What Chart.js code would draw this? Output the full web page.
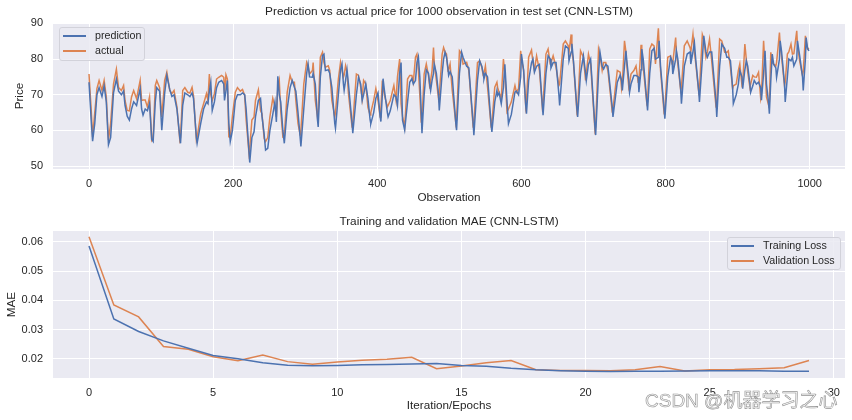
<!DOCTYPE html>
<html><head><meta charset="utf-8">
<script src="https://cdn.jsdelivr.net/npm/chart.js@4.4.1/dist/chart.umd.min.js"></script>
<style>
html,body{margin:0;padding:0;background:#fff;}
#wrap{position:relative;width:852px;height:420px;overflow:hidden;font-family:"Liberation Sans",Arial,sans-serif;color:#262626;}
canvas{position:absolute;left:0;}
.ttl{position:absolute;text-align:center;font-size:11.8px;line-height:14px;white-space:nowrap;color:#262626;}
.legend{position:absolute;background:rgba(234,234,242,0.85);border:1px solid #d2d2da;border-radius:3px;box-sizing:border-box;}
.legend .lab{position:absolute;font-size:10.7px;line-height:13px;white-space:pre;color:#262626;}
.legend .sw{position:absolute;height:2px;}
.wm{position:absolute;left:645px;top:390px;font-size:19px;line-height:21px;white-space:nowrap;color:#f6f6f6;-webkit-text-stroke:0.6px #949494;font-family:"Liberation Sans","Noto Sans CJK SC",sans-serif;}
</style></head>
<body>
<div id="wrap">
  <canvas id="c1" width="852" height="210" style="top:0"></canvas>
  <canvas id="c2" width="852" height="210" style="top:210px"></canvas>
  <div class="wm">CSDN @机器学习之心</div>
</div>
<script>
// ---------- Top chart data ----------
const topTitle = 'Prediction vs actual price for 1000 observation in test set (CNN-LSTM)';
const obs = [
  0,3,5,8,11,14,18,21,24,27,
  30,34,38,41,45,48,50,53,56,59,
  62,66,71,73,75,78,81,84,87,89,
  92,94,98,101,105,108,112,115,118,122,
  126,127,130,133,137,140,143,145,149,150,
  155,159,163,165,167,169,171,174,177,180,
  184,187,188,190,192,194,196,199,203,206,
  210,213,216,218,222,223,226,229,231,235,
  238,240,243,245,248,251,255,258,260,262,
  264,266,269,271,275,279,282,285,287,290,
  293,294,298,302,304,306,310,311,314,317,
  318,321,324,326,328,332,334,337,341,342,
  346,349,351,353,354,356,358,360,365,366,
  371,374,377,379,381,384,387,390,391,395,
  398,401,404,405,407,408,410,414,415,418,
  423,426,428,431,433,435,438,442,445,448,
  450,453,455,457,459,461,462,465,468,471,
  473,474,476,478,479,482,485,486,490,492,
  494,496,498,499,501,504,509,510,514,517,
  519,524,527,533,534,539,542,545,547,548,
  550,553,558,559,563,566,567,569,572,575,
  577,580,582,586,591,593,596,599,600,603,
  606,607,610,614,616,618,621,625,629,630,
  634,637,640,641,644,648,652,653,658,661,
  665,666,669,670,672,677,678,682,686,689,
  690,693,696,702,703,707,709,712,714,717,
  720,726,727,733,737,739,740,743,745,746,
  749,750,752,756,759,762,763,766,767,769,
  774,775,778,781,784,786,790,791,793,798,
  799,803,807,809,810,814,815,817,821,822,
  826,830,834,835,838,840,842,846,847,851,
  853,856,858,861,864,870,871,875,878,882,
  885,887,890,893,894,898,901,903,906,907,
  910,912,914,917,918,921,923,926,929,932,
  933,936,938,940,943,944,946,948,950,953,
  954,958,959,961,965,966,969,971,974,976,
  978,982,983,986,990,991,994,995,997,999
];
const actual = [
  75.8,66,58.2,65,71.7,74,71.2,74,69.4,57.3,
  62,73,77.2,72,71.2,72.6,68.4,65.6,65.5,69.4,
  71.2,68.9,74,68.4,68.5,68.5,66.6,69.4,57.3,58,
  72.6,74,72,63.8,74,76.3,71.2,70.3,71.2,66.6,
  57.3,58,71.2,72,70.7,70.5,72.1,69.8,57.3,58,
  64.7,67.5,70.3,68.4,75.8,70,68.4,70.3,74.4,74.9,
  75.4,74.9,70.3,75.6,74.4,58.2,58,64,70.7,72,
  71,71.5,69.8,63,53.6,55,62.9,63.8,68.4,71.4,
  65.6,64.7,57.8,56.9,58,63.8,69,66.6,63.8,72,
  74,65.6,58.2,58.5,70.7,75.4,73.5,73.5,68.4,62,
  58.7,60,73,79.1,78,75.8,76.8,79,68.4,63.8,
  65,80.5,81.9,79,77.7,78.1,76.8,68.4,63.8,65,
  74.4,79.1,77,74.9,75.5,78.1,76.3,70.3,61,62,
  75.8,75.4,72.1,68.9,74,73,66.5,64.3,65,68.4,
  71.7,68.4,63.8,66,74,72,69.8,66.6,67,68.4,
  72.6,68.4,75,80,67.5,64,61,74.4,75.4,75.4,
  73.5,80.5,81.4,77,70,62.4,63,75.8,78.6,75.4,
  71.7,74,76.8,83.2,79,74,68.9,70,81.4,83.2,
  82,81.4,76.8,77,78.6,71.2,61.9,63,82.3,81.4,
  78.6,79.1,76.8,61,62,79,79.5,77.7,75.4,76,
  78.1,72.1,61,62,72.1,73.5,72,70.7,68.9,80,
  76,65.2,66,68,72.6,70.7,71.7,82.3,80,76.8,
  66.6,68,80.5,82.5,79,76.8,80.9,76.8,66.6,67.5,
  81.4,82.8,78.6,79,80.9,77.7,72.6,73,84.2,85.1,
  83.7,82,86.9,82,79.5,65.2,66,82.3,80.5,74,
  76,81.4,78.6,60.1,61,82.8,81,76.8,79,79,
  76.8,65.2,66,76.8,76.3,71.7,73,85.1,82,78.6,
  72.1,73,75.8,76.8,78.1,73.5,74,84,81,77.7,
  67.5,68,82.8,84.2,83.7,78.6,88.6,84,76.8,64.7,
  65.5,80.5,80.9,78.6,79,86,82,78.6,71.2,72,
  83.7,85.1,83.2,82,86.9,82,78.6,70.7,71.5,86.9,
  85.6,80.5,82,85.6,79.5,66.6,67.5,85.6,85.1,81.9,
  81.9,82.3,77.7,71.7,72.5,73,76.8,78.6,72.6,73,
  84.2,80,76.3,72.1,73,75.4,75,74.9,76.3,68.9,
  70,85.1,78,69.4,67,68,81.9,79,78.6,78.1,
  79,87.4,84,80.5,72.6,73.5,81.4,82,84.2,81.4,
  81.5,87.9,84,79.5,75.4,76.5,86.5,85,82.8,83.1
];
const prediction = [
  73.5,63,57,62,70,72,69.5,72.5,68,56,
  58,70.5,74.4,71,70,71,67,64,62.9,66,
  68,67,71.7,66,64.3,66,65.5,67.5,57.5,56.9,
  68,72,71,60.1,70.5,75.4,71.5,69.5,70,66,
  58,56.4,67,70.5,70,69.5,70.5,69,58,56.4,
  62,66,68,67.5,71,73.5,65.6,68,72,73.5,
  74,73,68.4,71,74,62,56.9,60,68.4,70,
  70,70.5,70,66,54,51,58,59.6,63.8,68.4,
  69,64,59,54.5,55,60,64.5,68,62.4,75.2,
  70,68,60,56.4,66,72,74,72.1,71,65,
  58,55.5,66,76,78.6,75,74.9,76,73,63,
  61,75,81,81.4,76.8,77,76,72,62,60.6,
  70,77,78.6,73,71.2,74,77,73,62,59.2,
  70,74.9,73,68.4,70,73,69,63,61.9,65,
  69,70.5,63.8,62.5,70,74.5,71,65,63.8,65.5,
  70,69.4,67,76,79,62.9,60.1,68,73.5,74.5,
  73,74,79,80.6,75,65,59.2,70,77,76,
  72.5,71.2,74,76,78.6,76,70,65.6,76,80,
  81.9,80.5,77.5,75.4,76.5,75,62,60.1,76,81.9,
  80.5,78,77.5,62,58.7,74,79.5,78,76,74.4,
  76,75,61.5,59.6,68,71.2,69.8,70.5,67.5,72,
  78.5,68,61.9,64.5,70.7,71,70,75,81.4,77,
  67,64.7,74,79,80,76.3,78,78.5,67,64.3,
  76,80.9,80,77.5,79,79,70,67,80,83.7,
  83,79.5,82,84.3,80,66,63.8,76,80.9,76,
  74,78.5,80,61,58.7,76,81.9,78,77.2,78.5,
  78,66.5,63.8,73.5,75.5,74,71.2,78,82.3,80,
  74,70.7,73,75.4,75.4,75,70.7,77,82.8,80,
  68,65.6,76,82.3,83,80,80.5,85.1,78,66,
  63.3,75,80.5,79.5,75.8,80,82.3,80,71.5,67.5,
  78,81.4,82,78.6,82,84.6,79.5,71,68,80,
  86.5,82,80.5,82,82,68,63.8,78,84.2,83,
  80.5,80.5,79.5,72,67.5,70,73,76.8,75,71.7,
  77,79.5,78,73,70.7,72.5,74,73,73.5,72,
  68.5,76,82.3,73,67.5,64.7,74,81.4,78.5,77.5,
  74.9,80,85.1,82,73,68,75,80,79.5,80.5,
  78.1,80,85.1,81,75,71.2,80,86,83,82.3
];
const topXTicks = [0,200,400,600,800,1000];
const topYTicks = [50,60,70,80,90];

// ---------- Bottom chart data ----------
const bottomTitle = 'Training and validation MAE (CNN-LSTM)';
const epochs = [0,1,2,3,4,5,6,7,8,9,10,11,12,13,14,15,16,17,18,19,20,21,22,23,24,25,26,27,28,29];
const trainingLoss = [0.0586,0.0336,0.0293,0.0261,0.0236,0.0211,0.0200,0.0186,0.0178,0.0176,
                      0.0177,0.0179,0.0180,0.0182,0.0184,0.0177,0.0174,0.0167,0.0162,0.0159,
                      0.0157,0.0156,0.0157,0.0157,0.0158,0.0159,0.0159,0.0159,0.0157,0.0157];
const validationLoss = [0.0617,0.0384,0.0343,0.0242,0.0232,0.0207,0.0193,0.0213,0.0190,0.0181,
                        0.0189,0.0195,0.0198,0.0205,0.0166,0.0175,0.0186,0.0194,0.0162,0.0160,
                        0.0160,0.0159,0.0162,0.0173,0.0158,0.0162,0.0163,0.0166,0.0169,0.0194];
const botXTicks = [0,5,10,15,20,25,30];
const botYTicks = [0.02,0.03,0.04,0.05,0.06];

// ---------- Rendering ----------
const FONT = '"Liberation Sans", Arial, sans-serif';
const TEXT = '#262626';
const BLUE = '#4C72B0';
const ORANGE = '#DD8452';

const bgPlugin = {
  id: 'bg',
  beforeDraw(c) {
    const {ctx, chartArea: a} = c;
    ctx.save();
    ctx.fillStyle = '#EAEAF2';
    ctx.fillRect(a.left, a.top, a.right - a.left, a.bottom - a.top);
    ctx.restore();
  }
};

function makeChart(el, s) {
  return new Chart(el, {
    type: 'line',
    data: {
      datasets: s.series.map(d => ({
        label: d.label,
        data: s.xs.map((x, i) => ({x: x, y: d.values[i]})),
        borderColor: d.color, backgroundColor: d.color,
        borderWidth: 1.5, pointRadius: 0, tension: 0, fill: false
      }))
    },
    options: {
      responsive: false, animation: false, devicePixelRatio: 1,
      layout: {padding: {left: 0, right: 7, top: s.padTop, bottom: 0}},
      plugins: {legend: {display: false}, tooltip: {enabled: false}, title: {display: false}},
      scales: {
        x: {
          type: 'linear', min: s.xmin, max: s.xmax,
          afterFit: sc => { sc.height = s.xh; },
          afterBuildTicks: sc => { sc.ticks = s.xticks.map(v => ({value: v})); },
          grid: {color: '#ffffff', lineWidth: 1, drawTicks: false},
          border: {display: false},
          ticks: {color: TEXT, font: {family: FONT, size: 11}, padding: s.xpad, maxRotation: 0, autoSkip: false,
                  callback: v => String(v)},
          title: {display: true, text: s.xlabel, color: TEXT, font: {family: FONT, size: 11.7},
                  padding: {top: 0, bottom: s.xtpad}}
        },
        y: {
          type: 'linear', min: s.ymin, max: s.ymax,
          afterFit: sc => { sc.width = 53; },
          afterBuildTicks: sc => { sc.ticks = s.yticks.map(v => ({value: v})); },
          grid: {color: '#ffffff', lineWidth: 1, drawTicks: false},
          border: {display: false},
          ticks: {color: TEXT, font: {family: FONT, size: 11}, padding: 10, autoSkip: false,
                  callback: s.yfmt},
          title: {display: true, text: s.ylabel, color: TEXT, font: {family: FONT, size: 11.7},
                  padding: {top: s.ytpad, bottom: 0}}
        }
      }
    },
    plugins: [bgPlugin]
  });
}

function addTitle(chart, text, offsetTop) {
  const a = chart.chartArea;
  const d = document.createElement('div');
  d.className = 'ttl';
  d.textContent = text;
  d.style.left = a.left + 'px';
  d.style.width = (a.right - a.left) + 'px';
  d.style.top = (offsetTop + 4) + 'px';
  document.getElementById('wrap').appendChild(d);
}

function addLegend(chart, box) {
  const L = document.createElement('div');
  L.className = 'legend';
  L.style.left = box.left + 'px'; L.style.top = box.top + 'px';
  L.style.width = box.w + 'px'; L.style.height = box.h + 'px';
  chart.data.datasets.forEach((ds, i) => {
    const y = box.firstY + i * box.step;
    const sw = document.createElement('div');
    sw.className = 'sw';
    sw.style.left = '3px'; sw.style.width = '23px';
    sw.style.top = (y - 1) + 'px';
    sw.style.background = ds.borderColor;
    L.appendChild(sw);
    const lb = document.createElement('div');
    lb.className = 'lab';
    lb.style.left = box.textX + 'px';
    lb.style.top = (y - 7) + 'px';
    lb.textContent = ds.label;
    L.appendChild(lb);
  });
  document.getElementById('wrap').appendChild(L);
}

const chartTop = makeChart(document.getElementById('c1'), {
  xs: obs,
  series: [
    {label: 'prediction', values: prediction, color: BLUE},
    {label: 'actual', values: actual, color: ORANGE}
  ],
  padTop: 23, xh: 41, xmin: -49.95, xmax: 1048.95, ymin: 49.2, ymax: 90.1,
  xticks: topXTicks, yticks: topYTicks, xpad: 8, xtpad: 5, ytpad: 13,
  xlabel: 'Observation', ylabel: 'Price', yfmt: v => String(v)
});
addTitle(chartTop, topTitle, 0);
addLegend(chartTop, {left: 59, top: 27, w: 86, h: 34, firstY: 8, step: 15.3, textX: 35});

const chartBot = makeChart(document.getElementById('c2'), {
  xs: epochs,
  series: [
    {label: 'Training Loss', values: trainingLoss, color: BLUE},
    {label: 'Validation Loss', values: validationLoss, color: ORANGE}
  ],
  padTop: 21, xh: 42, xmin: -1.45, xmax: 30.45, ymin: 0.0134, ymax: 0.0637,
  xticks: botXTicks, yticks: botYTicks, xpad: 8.5, xtpad: 7.3, ytpad: 4.7,
  xlabel: 'Iteration/Epochs', ylabel: 'MAE', yfmt: v => v.toFixed(2)
});
addTitle(chartBot, bottomTitle, 210);
addLegend(chartBot, {left: 727, top: 237, w: 114, h: 33, firstY: 7.5, step: 15, textX: 35});
</script>
</body></html>
